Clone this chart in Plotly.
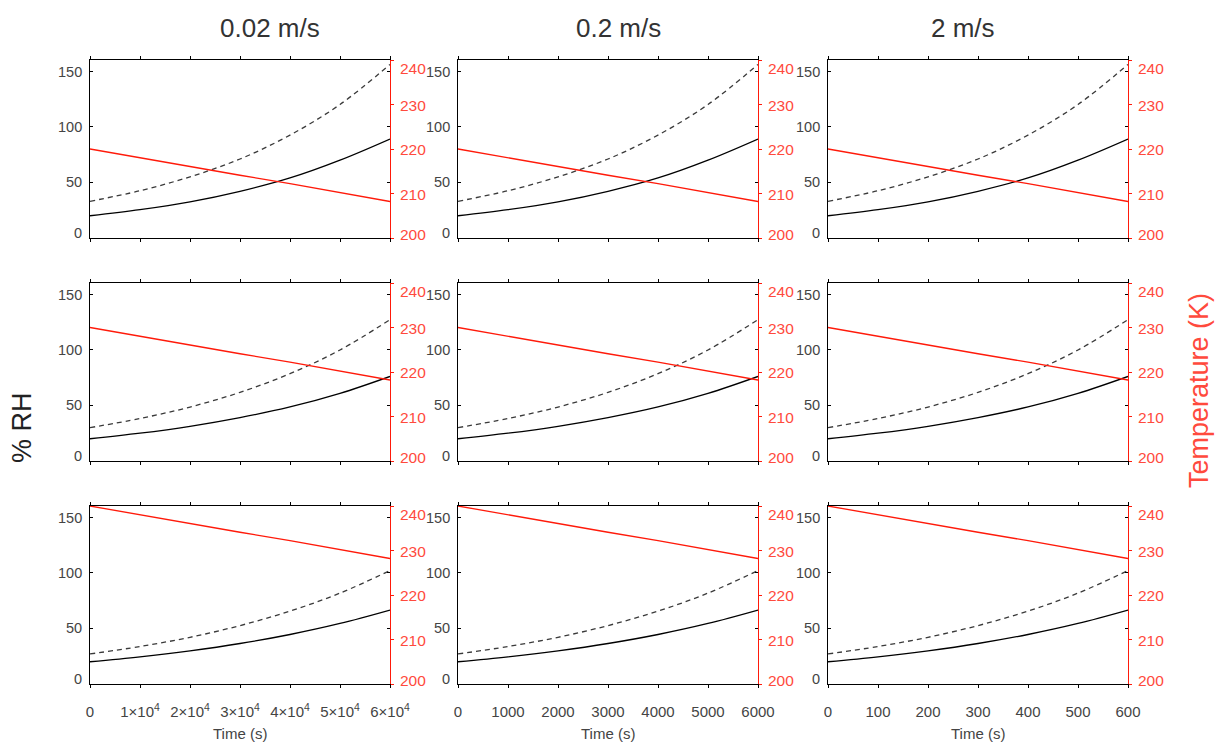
import plotly.graph_objects as go

# ---- data ----
speeds = ["0.02 m/s", "0.2 m/s", "2 m/s"]
time_002 = [0, 10000, 20000, 30000, 40000, 50000, 60000]
time_02 = [0, 1000, 2000, 3000, 4000, 5000, 6000]
time_2 = [0, 100, 200, 300, 400, 500, 600]
times = [time_002, time_02, time_2]

tick_text_002 = ["0", "1×10<sup>4</sup>", "2×10<sup>4</sup>", "3×10<sup>4</sup>",
                 "4×10<sup>4</sup>", "5×10<sup>4</sup>", "6×10<sup>4</sup>"]
tick_text_02 = ["0", "1000", "2000", "3000", "4000", "5000", "6000"]
tick_text_2 = ["0", "100", "200", "300", "400", "500", "600"]
tick_texts = [tick_text_002, tick_text_02, tick_text_2]

rh_water_220 = [20, 25.5, 32.5, 42, 54, 70, 89]
rh_ice_220 = [33, 42.5, 55, 71, 92.5, 120, 156]
temp_220 = [220, 218.0, 216.1, 214.1, 212.2, 210.2, 208.2]

rh_water_230 = [20, 25, 31.2, 39, 48.6, 60.8, 76]
rh_ice_230 = [30, 38.2, 48.5, 61.7, 78.5, 99.8, 127]
temp_230 = [230, 228.0, 226.1, 224.1, 222.2, 220.2, 218.2]

rh_water_240 = [20, 24.4, 29.8, 36.4, 44.5, 54.4, 66.5]
rh_ice_240 = [27, 33.7, 42, 52.5, 65.5, 81.7, 102]
temp_240 = [240, 238.0, 236.1, 234.1, 232.2, 230.2, 228.2]

rows = [
    (rh_water_220, rh_ice_220, temp_220),
    (rh_water_230, rh_ice_230, temp_230),
    (rh_water_240, rh_ice_240, temp_240),
]

rh_ticks = [0, 50, 100, 150]
temp_ticks = [200, 210, 220, 230, 240]

# ---- layout geometry (pixels) ----
W, H = 1215, 743
col_px = [(90, 390), (458, 758), (828, 1128)]
row_px = [(60, 238), (283, 461), (506, 684)]
title_x_px = [270, 619, 963]
# Mathematica-style: end labels nudged inward (pixels)
rh_label_shift = {0: 5, 50: 0, 100: 0, 150: -1}
temp_label_shift = {200: 4, 210: -1, 220: 0, 230: -1, 240: -8}

RED = "#ff1a0a"
RED_TXT = "#ff4a3d"
GRAY = "#444444"
FONT = "Liberation Sans, Arial, Helvetica, sans-serif"

fig = go.Figure()
layout = dict(
    width=W, height=H, margin=dict(l=0, r=0, t=0, b=0, autoexpand=False),
    paper_bgcolor="white", plot_bgcolor="white", showlegend=False,
    font=dict(family=FONT, size=14, color=GRAY),
)
annotations = []

n = 0
for r, (water, ice, temp) in enumerate(rows):
    for c in range(3):
        n += 1
        xk = "xaxis" if n == 1 else f"xaxis{n}"
        xr = "x" if n == 1 else f"x{n}"
        yl = 2 * n - 1
        yrn = 2 * n
        ylk = "yaxis" if yl == 1 else f"yaxis{yl}"
        ylr = "y" if yl == 1 else f"y{yl}"
        yrk = f"yaxis{yrn}"
        yrr = f"y{yrn}"
        x0, x1 = col_px[c]
        y0, y1 = row_px[r]
        t = times[c]

        fig.add_trace(go.Scatter(x=t, y=ice, xaxis=xr, yaxis=ylr, mode="lines",
                                 line=dict(color="#3a3a3a", width=1.3, dash="5px,4px", shape="spline"),
                                 hoverinfo="skip"))
        fig.add_trace(go.Scatter(x=t, y=water, xaxis=xr, yaxis=ylr, mode="lines",
                                 line=dict(color="black", width=1.3, shape="spline"),
                                 hoverinfo="skip"))
        fig.add_trace(go.Scatter(x=t, y=temp, xaxis=xr, yaxis=yrr, mode="lines",
                                 line=dict(color=RED, width=1.3),
                                 hoverinfo="skip"))

        xax = dict(
            domain=[x0 / W, x1 / W], anchor=ylr, range=[t[0], t[-1]],
            tickvals=t, automargin=False,
            ticks="outside", ticklen=3, tickcolor="black", tickwidth=1,
            showline=True, linecolor="black", linewidth=1, mirror="allticks",
            showgrid=False, zeroline=False,
        )
        if r == 2:
            xax.update(ticktext=tick_texts[c], showticklabels=True, ticklabelstandoff=11,
                       tickfont=dict(size=15, color=GRAY, family=FONT))
        else:
            xax.update(showticklabels=False)
        layout[xk] = xax
        layout[ylk] = dict(
            domain=[1 - y1 / H, 1 - y0 / H], anchor=xr, range=[0, 160], automargin=False,
            tickvals=rh_ticks, ticks="inside", ticklen=3, tickcolor="black",
            showline=True, linecolor="black", linewidth=1, mirror="allticks",
            showgrid=False, zeroline=False, showticklabels=False,
        )
        layout[yrk] = dict(
            domain=[1 - y1 / H, 1 - y0 / H], anchor=xr, overlaying=ylr, side="right",
            range=[200, 240], tickvals=temp_ticks, ticks="outside", ticklen=3,
            tickcolor=RED, showline=True, linecolor=RED, linewidth=1.3, automargin=False,
            showgrid=False, zeroline=False, showticklabels=False,
        )
        for v in rh_ticks:
            annotations.append(dict(text=str(v), x=x0 / W, xref="paper", y=v, yref=ylr,
                                    xanchor="right", yanchor="middle", xshift=-6,
                                    yshift=rh_label_shift[v], showarrow=False,
                                    font=dict(size=14.5, color=GRAY, family=FONT)))
        for v in temp_ticks:
            annotations.append(dict(text=str(v), x=x1 / W, xref="paper", y=v, yref=yrr,
                                    xanchor="left", yanchor="middle", xshift=8,
                                    yshift=temp_label_shift[v], showarrow=False,
                                    font=dict(size=15.5, color=RED_TXT, family=FONT)))

for c, s in enumerate(speeds):
    annotations.append(dict(text=s, x=title_x_px[c] / W, y=1 - 28 / H, xref="paper", yref="paper",
                            showarrow=False, xanchor="center", yanchor="middle",
                            font=dict(size=26, color="#333333", family=FONT)))
    x0, x1 = col_px[c]
    annotations.append(dict(text="Time (s)", x=(x0 + x1) / 2 / W, y=1 - 733 / H, xref="paper",
                            yref="paper", showarrow=False, xanchor="center", yanchor="middle",
                            font=dict(size=15, color=GRAY, family=FONT)))

annotations.append(dict(text="% RH", x=22 / W, y=1 - 428 / H, xref="paper", yref="paper",
                        showarrow=False, textangle=-90, xanchor="center", yanchor="middle",
                        font=dict(size=27, color="#222222", family=FONT)))
annotations.append(dict(text="Temperature (K)", x=1199 / W, y=1 - 391 / H, xref="paper", yref="paper",
                        showarrow=False, textangle=-90, xanchor="center", yanchor="middle",
                        font=dict(size=27, color=RED_TXT, family=FONT)))

layout["annotations"] = annotations
fig.update_layout(**layout)
fig.write_html("out.html")
